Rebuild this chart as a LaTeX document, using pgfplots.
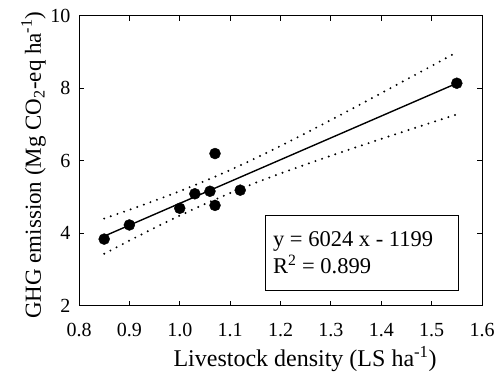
\documentclass[border=0pt]{standalone}
\usepackage{fontspec}
\setmainfont{Liberation Serif}
\usepackage{pgfplots}
\pgfplotsset{compat=1.18}
\begin{document}
\begin{tikzpicture}
\begin{axis}[
  name=ax,
  scale only axis,
  width=403pt, height=290pt,
  xmin=0.8, xmax=1.6, ymin=2, ymax=10,
  xtick={0.8,0.9,1.0,1.1,1.2,1.3,1.4,1.5,1.6},
  ytick={2,4,6,8,10},
  xticklabel style={/pgf/number format/fixed, /pgf/number format/fixed zerofill, /pgf/number format/precision=1, yshift=-14pt},
  yticklabel style={xshift=-5pt},
  /pgf/number format/assume math mode=true,
  tick pos=both, tick align=inside,
  major tick length=5pt,
  axis line style={line width=0.9pt},
  every tick/.style={line width=0.9pt, black},
  tick label style={font=\fontsize{20}{23}\selectfont},
  xlabel={Livestock density (LS ha\textsuperscript{-1})},
  ylabel={GHG emission (Mg CO\textsubscript{2}-eq ha\textsuperscript{-1})},
  every axis x label/.style={at={(axis description cs:0.561,-0.211)}, anchor=base, font=\fontsize{24}{28}\selectfont},
  every axis y label/.style={at={(axis description cs:-0.0943,0.485)}, rotate=90, anchor=base, font=\fontsize{23}{27}\selectfont},
  clip=false,
]
% confidence bands
\addplot[black, line width=2.2pt, dash pattern=on 0pt off 7pt, line cap=round] coordinates {
(0.85,4.407) (0.90,4.648) (0.95,4.898) (1.00,5.161) (1.05,5.442) (1.10,5.744) (1.15,6.068) (1.20,6.409) (1.25,6.763) (1.30,7.125) (1.35,7.493) (1.40,7.866) (1.45,8.241) (1.50,8.617) (1.55,8.995)};
\addplot[black, line width=2.2pt, dash pattern=on 0pt off 7pt, line cap=round] coordinates {
(0.85,3.435) (0.90,3.798) (0.95,4.150) (1.00,4.489) (1.05,4.810) (1.10,5.110) (1.15,5.390) (1.20,5.651) (1.25,5.899) (1.30,6.139) (1.35,6.373) (1.40,6.604) (1.45,6.832) (1.50,7.057) (1.55,7.281)};
% regression line
\addplot[black, line width=1.4pt] coordinates {(0.85,3.921) (1.55,8.138)};
% data
\addplot[only marks, mark=*, mark size=5.5pt, black] coordinates {
(0.85,3.84) (0.90,4.23) (1.00,4.69) (1.03,5.09) (1.06,5.16) (1.07,6.20) (1.07,4.77) (1.12,5.19) (1.55,8.14)};
% annotation box
\draw[line width=0.8pt] (axis cs:1.1706,2.436) rectangle (axis cs:1.553,4.505);
\node[anchor=base west, inner sep=0pt, font=\fontsize{22.5}{26}\selectfont] at (axis cs:1.185,3.63) {y = 6024 x - 1199};
\node[anchor=base west, inner sep=0pt, font=\fontsize{22.5}{26}\selectfont] at (axis cs:1.185,2.897) {R\textsuperscript{2} = 0.899};
\end{axis}
\pgfresetboundingbox
\path ([xshift=-79pt,yshift=-67.2pt]ax.south west) rectangle ([xshift=19pt,yshift=15.8pt]ax.north east);
\end{tikzpicture}
\end{document}
